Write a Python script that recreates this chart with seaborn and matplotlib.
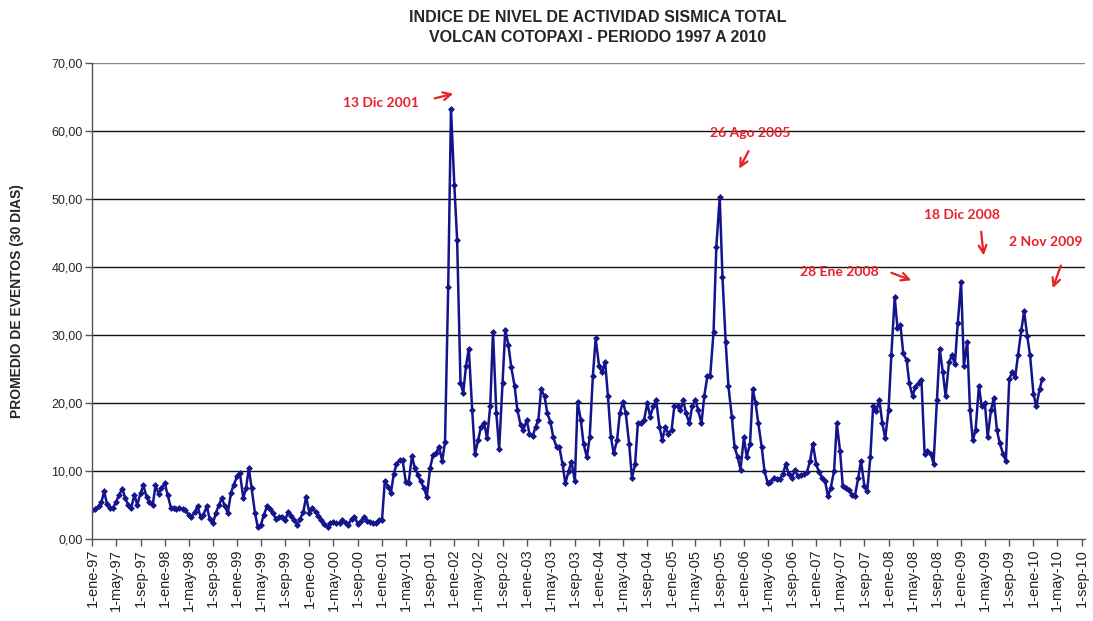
import pandas as pd
import matplotlib
matplotlib.use("Agg")
import matplotlib.pyplot as plt
import seaborn as sns

# promedio de eventos (30 dias), valores leidos el 1 y el 15 de cada mes
v1997 = [4.2, 4.4, 4.8, 5.4, 7.0, 5.2, 4.5, 4.6, 5.5, 6.5, 7.4, 6.0,
         5.0, 4.6, 6.5, 5.0, 6.8, 7.9, 6.2, 5.4, 5.0, 7.9, 6.6, 7.5]
v1998 = [8.2, 6.5, 4.6, 4.5, 4.4, 4.5, 4.4, 4.2, 3.6, 3.2, 4.0, 4.8,
         3.2, 3.6, 4.8, 3.0, 2.3, 3.8, 5.0, 6.0, 4.8, 3.8, 6.8, 8.0]
v1999 = [9.2, 9.7, 6.0, 7.5, 10.4, 7.5, 3.8, 1.8, 2.1, 3.5, 4.8, 4.4,
         3.8, 3.0, 3.2, 3.3, 2.8, 4.0, 3.4, 2.8, 2.1, 3.0, 4.0, 6.2]
v2000 = [3.8, 4.5, 4.0, 3.4, 2.8, 2.2, 1.7, 2.3, 2.5, 2.3, 2.4, 2.8,
         2.4, 2.1, 3.0, 3.3, 2.2, 2.6, 3.2, 2.7, 2.5, 2.3, 2.3, 2.8]
v2001 = [2.8, 8.5, 7.7, 6.8, 9.5, 11.0, 11.6, 11.6, 8.4, 8.2, 12.2, 10.5,
         9.4, 8.5, 7.5, 6.2, 10.5, 12.3, 12.6, 13.6, 11.5, 14.3, 37.0, 63.3]
v2002 = [52.0, 44.0, 23.0, 21.5, 25.5, 28.0, 19.0, 12.5, 14.5, 16.5, 17.0, 14.8,
         19.5, 30.5, 18.5, 13.2, 23.0, 30.8, 28.5, 25.3, 22.5, 19.0, 16.8, 16.0]
v2003 = [17.5, 15.5, 15.2, 16.5, 17.5, 22.0, 21.0, 18.5, 17.2, 15.0, 13.5, 13.5,
         11.0, 8.2, 10.0, 11.4, 8.5, 20.2, 17.5, 14.0, 12.0, 15.0, 24.0, 29.5]
v2004 = [25.5, 24.5, 26.0, 21.0, 15.0, 12.6, 14.5, 18.5, 20.2, 18.5, 14.0, 9.0,
         11.0, 17.0, 17.0, 17.5, 20.0, 18.0, 19.5, 20.5, 16.5, 14.6, 16.5, 15.5]
v2005 = [16.0, 19.5, 19.5, 19.0, 20.4, 18.5, 17.0, 19.5, 20.5, 19.0, 17.0, 21.0,
         24.0, 24.0, 30.5, 43.0, 50.3, 38.5, 29.0, 22.5, 18.0, 13.5, 12.0, 10.2]
v2006 = [15.0, 12.1, 14.0, 22.0, 20.0, 17.0, 13.5, 10.0, 8.2, 8.4, 9.0, 8.8,
         8.8, 9.5, 11.0, 9.5, 9.0, 10.2, 9.2, 9.4, 9.5, 9.8, 11.5, 14.0]
v2007 = [11.0, 9.8, 9.0, 8.5, 6.3, 7.5, 10.0, 17.0, 13.0, 7.8, 7.5, 7.2,
         6.5, 6.3, 9.0, 11.5, 7.8, 7.0, 12.0, 19.5, 18.8, 20.5, 17.0, 14.8]
v2008 = [19.0, 27.0, 35.6, 31.0, 31.5, 27.3, 26.3, 22.9, 21.0, 22.4, 23.0, 23.4,
         12.5, 13.0, 12.5, 11.1, 20.4, 28.0, 24.5, 21.0, 26.0, 27.0, 25.8, 31.7]
v2009 = [37.8, 25.5, 29.0, 19.0, 14.5, 16.0, 22.5, 19.5, 20.0, 15.0, 19.0, 20.7,
         16.0, 14.1, 12.5, 11.5, 23.5, 24.5, 23.8, 27.0, 30.7, 33.5, 29.8, 27.0]
v2010 = [21.4, 19.5, 22.0, 23.6]

valores = v1997 + v1998 + v1999 + v2000 + v2001 + v2002 + v2003 + v2004 \
    + v2005 + v2006 + v2007 + v2008 + v2009 + v2010
fechas = pd.date_range("1997-01-01", periods=len(valores), freq="SMS")
df = pd.DataFrame({"fecha": fechas, "promedio": valores})

meses = {1: "ene", 5: "may", 9: "sep"}
ticks_x = pd.date_range("1997-01-01", "2010-09-01", freq="4MS")
etiquetas_x = [f"1-{meses[t.month]}-{t.year % 100:02d}" for t in ticks_x]
ticks_y = list(range(0, 71, 10))

eventos = ["13 Dic 2001", "26 Ago 2005", "28 Ene 2008", "18 Dic 2008", "2 Nov 2009"]
texto_pos = [("2000-12-27", 64.1), ("2006-01-31", 59.7), ("2007-04-25", 39.3),
             ("2009-01-05", 47.6), ("2010-03-05", 43.7)]
flecha_ini = [("2001-09-10", 64.7), ("2006-01-31", 57.4), ("2008-01-02", 39.3),
              ("2009-04-11", 45.6), ("2010-05-24", 40.6)]
flecha_fin = [("2002-01-09", 65.6), ("2005-12-02", 54.1), ("2008-05-08", 37.9),
              ("2009-04-26", 41.3), ("2010-04-04", 36.5)]

sns.set_theme(style="white")
plt.rcParams["font.family"] = ["Liberation Sans", "DejaVu Sans"]

fig = plt.figure(figsize=(10.93, 6.21), dpi=100)
ax = fig.add_axes([0.0846, 0.132, 0.9084, 0.7665])

sns.lineplot(data=df, x="fecha", y="promedio", ax=ax, color="#14148c",
             linewidth=1.8, marker="D", markersize=3.0, markeredgewidth=0.5,
             markeredgecolor="#14148c")

ax.set_xlim(pd.Timestamp("1997-01-01"), pd.Timestamp("2010-09-20"))
ax.set_ylim(0, 70)
ax.set_yticks(ticks_y)
ax.set_yticklabels([f"{t:.2f}".replace(".", ",") for t in ticks_y], fontsize=9)
ax.set_xticks(ticks_x)
ax.set_xticklabels(etiquetas_x, rotation=90, fontsize=10.5, color="#222222")

for t in ticks_y[1:]:
    ax.axhline(t, color="#111111" if t < 70 else "#888888", linewidth=1.0, zorder=0)

for s in ["top", "right"]:
    ax.spines[s].set_visible(False)
for s in ["left", "bottom"]:
    ax.spines[s].set_color("#555555")
    ax.spines[s].set_linewidth(1.0)
ax.tick_params(axis="both", direction="out", length=5, width=1, color="#555555",
               left=True, bottom=True, pad=2)

ax.set_xlabel("")
ax.set_ylabel("PROMEDIO DE EVENTOS (30 DIAS)", fontsize=10, fontweight="bold", labelpad=20)

fig.text(0.547, 0.972, "INDICE DE NIVEL DE ACTIVIDAD SISMICA TOTAL",
         ha="center", va="center", fontsize=11.5, fontweight="bold")
fig.text(0.547, 0.94, "VOLCAN COTOPAXI - PERIODO 1997 A 2010",
         ha="center", va="center", fontsize=11.5, fontweight="bold")

for nombre, (tx, ty), (ax0, ay0), (ax1, ay1) in zip(eventos, texto_pos, flecha_ini, flecha_fin):
    ax.text(pd.Timestamp(tx), ty, nombre, color="#e8202a", fontsize=10,
            fontweight="bold", ha="center", va="center", family=["Lato", "DejaVu Sans"])
    ax.annotate("", xy=(pd.Timestamp(ax1), ay1), xytext=(pd.Timestamp(ax0), ay0),
                arrowprops=dict(arrowstyle="->", color="#e8202a", lw=1.6,
                                mutation_scale=14))

fig.savefig("out.png", dpi=100)
